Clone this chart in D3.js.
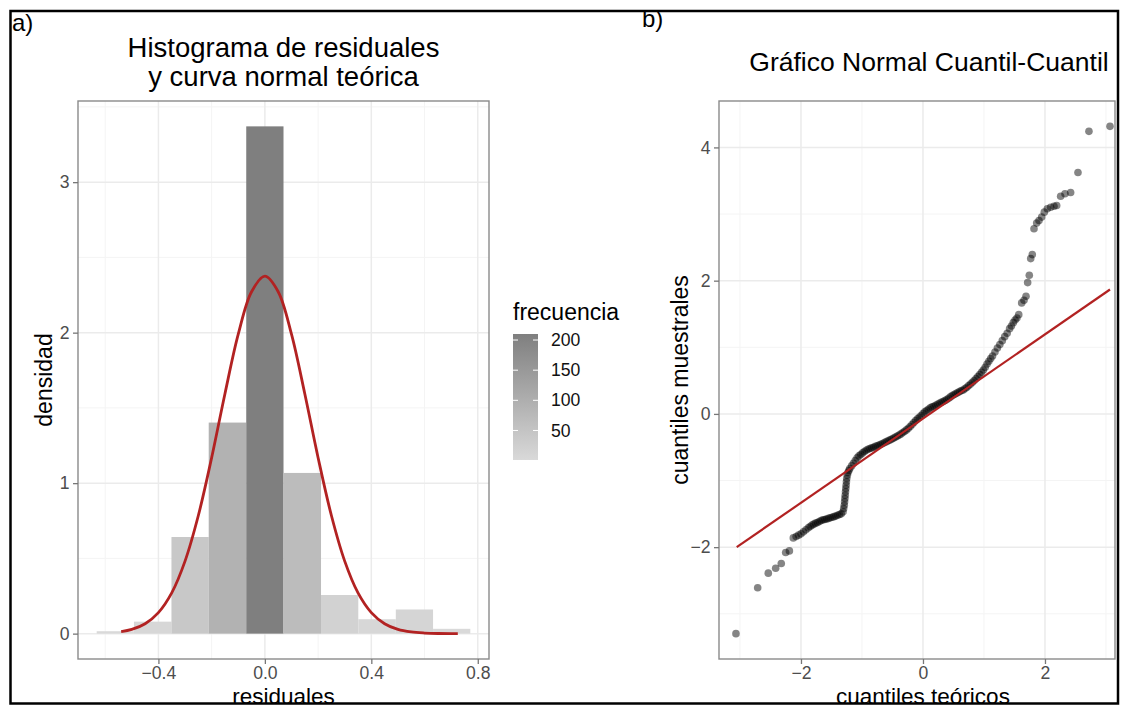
<!DOCTYPE html>
<html>
<head>
<meta charset="utf-8">
<script src="https://cdn.jsdelivr.net/npm/d3@7"></script>
<style>
  body { margin: 0; background: #fff; }
  text { font-family: "Liberation Sans", Arial, sans-serif; }
</style>
</head>
<body>
<script>
// ---- a) histograma de residuales ----
const binEdges = [-0.632, -0.492, -0.351, -0.211, -0.070, 0.070, 0.211, 0.351, 0.492, 0.632, 0.772];
const binCounts = [1, 5, 40, 88, 210, 67, 16, 6, 10, 2];
const histXTicks = [-0.4, 0, 0.4, 0.8];
const histXMinor = [-0.6, -0.2, 0.2, 0.6];
const histYTicks = [0, 1, 2, 3];
const histYMinor = [0.5, 1.5, 2.5, 3.5];
// curva normal teorica
const curveX = [-0.54, -0.50, -0.45, -0.40, -0.35, -0.30, -0.25, -0.20, -0.15, -0.10, -0.05, 0.00,
  0.05, 0.10, 0.15, 0.20, 0.25, 0.30, 0.35, 0.40, 0.45, 0.50, 0.55, 0.60, 0.65, 0.725];
const curveY = [0.014, 0.028, 0.066, 0.140, 0.271, 0.482, 0.785, 1.169, 1.594, 1.990, 2.272, 2.375,
  2.272, 1.990, 1.594, 1.169, 0.785, 0.482, 0.271, 0.140, 0.066, 0.028, 0.011, 0.004, 0.001, 0.000];
const legendBreaks = [50, 100, 150, 200];

// ---- b) grafico normal cuantil-cuantil ----
const qqTeo = [
  -3.066, -2.71, -2.536, -2.415, -2.323, -2.251, -2.19,
  -2.126, -2.08, -2.04, -2.00, -1.96, -1.92, -1.88,
  -1.85, -1.82, -1.79, -1.76, -1.73, -1.70, -1.67, -1.64, -1.61, -1.58, -1.55, -1.52, -1.49, -1.46,
  -1.43, -1.40, -1.37, -1.34, -1.31,
  -1.30, -1.29, -1.285, -1.28, -1.275, -1.27, -1.265, -1.26, -1.255, -1.25, -1.24, -1.23, -1.215,
  -1.20, -1.17, -1.14, -1.11, -1.08, -1.05, -1.02, -0.99, -0.96, -0.93, -0.90, -0.87, -0.84, -0.81,
  -0.78, -0.75, -0.72, -0.69, -0.66, -0.63, -0.60, -0.57, -0.54, -0.51, -0.48, -0.45, -0.42, -0.39,
  -0.36, -0.33, -0.30, -0.27, -0.24, -0.21, -0.18, -0.15, -0.12, -0.09, -0.06, -0.03, 0.00,
  0.03, 0.06, 0.09, 0.12, 0.15, 0.18, 0.21, 0.24, 0.27, 0.30, 0.33, 0.36, 0.39, 0.42, 0.45, 0.48,
  0.51, 0.54, 0.57, 0.60, 0.63, 0.66, 0.69, 0.72, 0.75, 0.78, 0.81, 0.84, 0.87, 0.90, 0.93, 0.96,
  0.99, 1.02, 1.05, 1.08,
  1.11, 1.14, 1.18, 1.22, 1.26, 1.30, 1.34, 1.38, 1.42, 1.45, 1.48, 1.51, 1.54, 1.57,
  1.618, 1.656, 1.689, 1.716, 1.743, 1.766, 1.792, 1.82, 1.864, 1.902, 1.946, 1.989, 2.038,
  2.093, 2.148, 2.192, 2.257, 2.328, 2.421, 2.541, 2.721, 3.066
];
const qqMue = [
  -3.298, -2.61, -2.39, -2.316, -2.246, -2.081, -2.056,
  -1.861, -1.84, -1.82, -1.80, -1.77, -1.74, -1.71,
  -1.69, -1.67, -1.655, -1.64, -1.63, -1.615, -1.60, -1.59, -1.585, -1.577, -1.568, -1.558, -1.55, -1.542,
  -1.534, -1.52, -1.51, -1.50, -1.47,
  -1.42, -1.37, -1.32, -1.27, -1.22, -1.17, -1.12, -1.07, -1.02, -0.97, -0.92, -0.88, -0.85,
  -0.82, -0.78, -0.74, -0.70, -0.66, -0.63, -0.61, -0.585, -0.565, -0.545, -0.53, -0.52, -0.51, -0.50,
  -0.488, -0.477, -0.466, -0.455, -0.443, -0.43, -0.416, -0.403, -0.39, -0.377, -0.363, -0.348, -0.333, -0.318,
  -0.30, -0.28, -0.26, -0.24, -0.215, -0.19, -0.16, -0.13, -0.10, -0.075, -0.05, -0.025, 0.005,
  0.03, 0.05, 0.07, 0.09, 0.105, 0.115, 0.13, 0.145, 0.16, 0.175, 0.185, 0.20, 0.215, 0.235, 0.255, 0.275,
  0.29, 0.305, 0.32, 0.335, 0.35, 0.36, 0.38, 0.40, 0.425, 0.45, 0.475, 0.50, 0.53, 0.56, 0.59, 0.625,
  0.66, 0.70, 0.75, 0.79,
  0.83, 0.87, 0.93, 0.99, 1.04, 1.10, 1.16, 1.21, 1.28, 1.32, 1.37, 1.41, 1.44, 1.49,
  1.666, 1.707, 1.766, 1.971, 2.081, 2.331, 2.391, 2.78, 2.864, 2.904, 2.954, 3.028, 3.079,
  3.103, 3.118, 3.129, 3.268, 3.304, 3.323, 3.623, 4.241, 4.316
];
const qqLineX = [-3.054, 3.066];
const qqLineY = [-2.0, 1.867];
const qqXTicks = [-2, 0, 2];
const qqXMinor = [-3, -1, 1, 3];
const qqYTicks = [-2, 0, 2, 4];
const qqYMinor = [-3, -1, 1, 3];

const width = 1121, height = 707;
const red = "#b22222";

const svg = d3.select("body").append("svg")
  .attr("width", width)
  .attr("height", height);
svg.append("rect").attr("width", width).attr("height", height).attr("fill", "#fff");

// ggplot-like expansion of 5%
function expand(ext) {
  const d = (ext[1] - ext[0]) * 0.05;
  return [ext[0] - d, ext[1] + d];
}

// background grid (minor first, then major)
function grid(box, x, y, xMaj, xMin, yMaj, yMin) {
  const g = svg.append("g");
  const vline = (vals, col, w) => g.selectAll(null).data(vals).enter().append("line")
    .attr("x1", d => x(d)).attr("x2", d => x(d))
    .attr("y1", box.t).attr("y2", box.b)
    .attr("stroke", col).attr("stroke-width", w);
  const hline = (vals, col, w) => g.selectAll(null).data(vals).enter().append("line")
    .attr("y1", d => y(d)).attr("y2", d => y(d))
    .attr("x1", box.l).attr("x2", box.r)
    .attr("stroke", col).attr("stroke-width", w);
  vline(xMin, "#f4f4f4", 1);
  hline(yMin, "#f4f4f4", 1);
  vline(xMaj, "#ebebeb", 1.5);
  hline(yMaj, "#ebebeb", 1.5);
}

function axes(box, x, y, xTicks, yTicks, fmtX, fmtY) {
  svg.append("rect")
    .attr("x", box.l).attr("y", box.t)
    .attr("width", box.r - box.l).attr("height", box.b - box.t)
    .attr("fill", "none").attr("stroke", "#8a8a8a").attr("stroke-width", 1.4);

  const ax = svg.append("g")
    .attr("transform", `translate(0,${box.b})`)
    .call(d3.axisBottom(x).tickValues(xTicks).tickFormat(fmtX).tickSize(5).tickPadding(2.5));
  const ay = svg.append("g")
    .attr("transform", `translate(${box.l},0)`)
    .call(d3.axisLeft(y).tickValues(yTicks).tickFormat(fmtY).tickSize(5).tickPadding(3.5));
  [ax, ay].forEach(a => {
    a.select(".domain").remove();
    a.selectAll("line").attr("stroke", "#777").attr("stroke-width", 1.3);
    a.selectAll("text").attr("fill", "#4d4d4d").style("font-size", "17.6px")
      .style("font-family", "'Liberation Sans', Arial, sans-serif");
  });
}

// ================= a) =================
const hBox = { l: 78, t: 101, r: 489, b: 659 };
const nTotal = d3.sum(binCounts);
const bins = binCounts.map((c, i) => ({
  x0: binEdges[i], x1: binEdges[i + 1], count: c,
  dens: c / (nTotal * (binEdges[i + 1] - binEdges[i]))
}));

const hx = d3.scaleLinear()
  .domain(expand([binEdges[0], binEdges[binEdges.length - 1]]))
  .range([hBox.l, hBox.r]);
const hy = d3.scaleLinear()
  .domain(expand([0, d3.max(bins, d => d.dens)]))
  .range([hBox.b, hBox.t]);

const fill = d3.scaleLinear()
  .domain(d3.extent(binCounts))
  .range(["#d9d9d9", "#7f7f7f"])
  .interpolate(d3.interpolateLab);

grid(hBox, hx, hy, histXTicks, histXMinor, histYTicks, histYMinor);

svg.append("g").selectAll("rect").data(bins).enter().append("rect")
  .attr("x", d => hx(d.x0))
  .attr("y", d => hy(d.dens))
  .attr("width", d => hx(d.x1) - hx(d.x0))
  .attr("height", d => hy(0) - hy(d.dens))
  .attr("fill", d => fill(d.count));

const curvePts = curveX.map((v, i) => [v, curveY[i]]);
svg.append("path")
  .datum(curvePts)
  .attr("fill", "none")
  .attr("stroke", red)
  .attr("stroke-width", 2.8)
  .attr("d", d3.line().x(d => hx(d[0])).y(d => hy(d[1])).curve(d3.curveCatmullRom));

axes(hBox, hx, hy, histXTicks, histYTicks, d3.format(".1f"), d3.format("d"));

const hCx = (hBox.l + hBox.r) / 2;
svg.append("text").attr("x", hCx).attr("y", 57).attr("text-anchor", "middle")
  .style("font-size", "27.5px").text("Histograma de residuales");
svg.append("text").attr("x", hCx).attr("y", 86).attr("text-anchor", "middle")
  .style("font-size", "27.5px").text("y curva normal teórica");
svg.append("text").attr("x", hCx).attr("y", 704).attr("text-anchor", "middle")
  .style("font-size", "22.5px").text("residuales");
svg.append("text")
  .attr("transform", `translate(52,${(hBox.t + hBox.b) / 2}) rotate(-90)`)
  .attr("text-anchor", "middle")
  .style("font-size", "23px").text("densidad");

// legend
const lg = { x: 513, w: 25 };
const ly = d3.scaleLinear().domain(d3.extent(binCounts)).range([460, 334]);
const defs = svg.append("defs");
const grad = defs.append("linearGradient").attr("id", "freqGrad")
  .attr("x1", 0).attr("y1", 1).attr("x2", 0).attr("y2", 0);
grad.append("stop").attr("offset", "0%").attr("stop-color", fill(d3.min(binCounts)));
grad.append("stop").attr("offset", "100%").attr("stop-color", fill(d3.max(binCounts)));

svg.append("text").attr("x", lg.x).attr("y", 320)
  .style("font-size", "23px").text("frecuencia");
svg.append("rect")
  .attr("x", lg.x).attr("y", ly.range()[1])
  .attr("width", lg.w).attr("height", ly.range()[0] - ly.range()[1])
  .attr("fill", "url(#freqGrad)");
const lt = svg.append("g").selectAll("g").data(legendBreaks).enter().append("g");
lt.append("line").attr("x1", lg.x).attr("x2", lg.x + 5)
  .attr("y1", d => ly(d)).attr("y2", d => ly(d)).attr("stroke", "#fff").attr("stroke-width", 1);
lt.append("line").attr("x1", lg.x + lg.w - 5).attr("x2", lg.x + lg.w)
  .attr("y1", d => ly(d)).attr("y2", d => ly(d)).attr("stroke", "#fff").attr("stroke-width", 1);
lt.append("text").attr("x", lg.x + lg.w + 13).attr("y", d => ly(d)).attr("dy", "0.35em")
  .style("font-size", "17.6px").attr("fill", "#111").text(d => d);

// ================= b) =================
const qBox = { l: 719, t: 101, r: 1115, b: 659 };
const qx = d3.scaleLinear().domain([-3.344, 3.148]).range([qBox.l, qBox.r]);
const qy = d3.scaleLinear().domain(expand(d3.extent(qqMue))).range([qBox.b, qBox.t]);

grid(qBox, qx, qy, qqXTicks, qqXMinor, qqYTicks, qqYMinor);

svg.append("g").selectAll("circle").data(qqTeo).enter().append("circle")
  .attr("cx", d => qx(d))
  .attr("cy", (d, i) => qy(qqMue[i]))
  .attr("r", 3.8)
  .attr("fill", "#000")
  .attr("fill-opacity", 0.48);

svg.append("line")
  .attr("x1", qx(qqLineX[0])).attr("y1", qy(qqLineY[0]))
  .attr("x2", qx(qqLineX[1])).attr("y2", qy(qqLineY[1]))
  .attr("stroke", red).attr("stroke-width", 2.2);

axes(qBox, qx, qy, qqXTicks, qqYTicks, d3.format("d"), d3.format("d"));

svg.append("text").attr("x", 929).attr("y", 71).attr("text-anchor", "middle")
  .style("font-size", "26.5px").text("Gráfico Normal Cuantil-Cuantil");
svg.append("text").attr("x", qx(0)).attr("y", 704).attr("text-anchor", "middle")
  .style("font-size", "22.5px").text("cuantiles teóricos");
svg.append("text")
  .attr("transform", `translate(688,${(qBox.t + qBox.b) / 2}) rotate(-90)`)
  .attr("text-anchor", "middle")
  .style("font-size", "23px").text("cuantiles muestrales");

// panel letters and outer frame
svg.append("text").attr("x", 12).attr("y", 31).style("font-size", "24px").text("a)");
svg.append("text").attr("x", 642).attr("y", 27).style("font-size", "24px").text("b)");
svg.append("rect")
  .attr("x", 10.5).attr("y", 11)
  .attr("width", 1107.5).attr("height", 692.5)
  .attr("fill", "none").attr("stroke", "#000").attr("stroke-width", 2.5);
</script>
</body>
</html>
